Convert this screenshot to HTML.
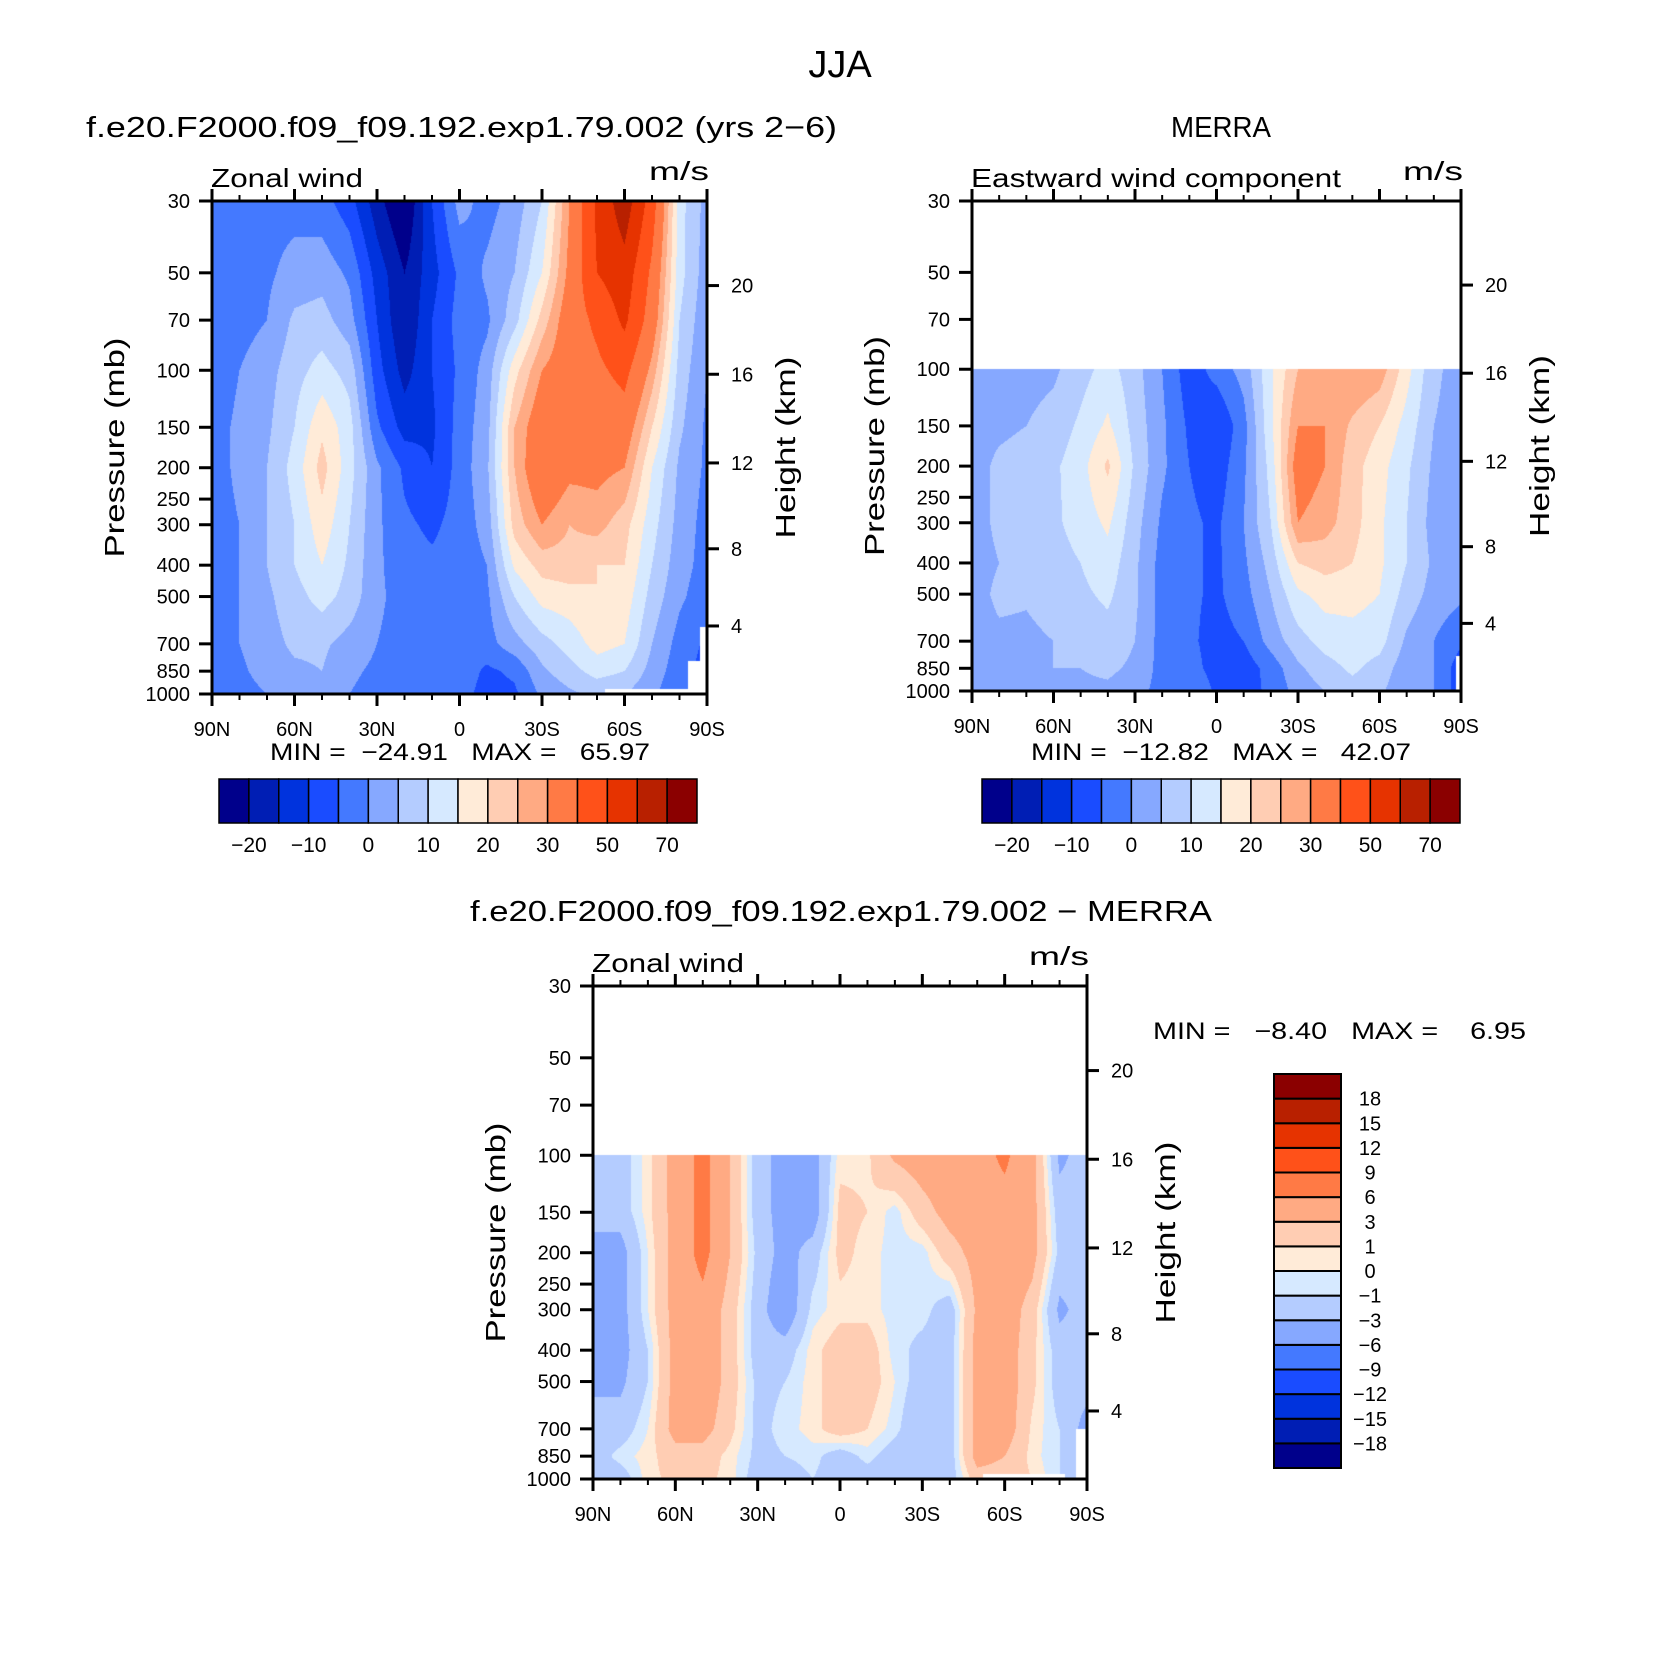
<!DOCTYPE html>
<html><head><meta charset="utf-8">
<style>
html,body{margin:0;padding:0;background:#fff;}
#wrap{position:relative;width:1674px;height:1672px;overflow:hidden;background:#fff;}
canvas{position:absolute;}
svg{position:absolute;left:0;top:0;}
text{font-family:"Liberation Sans",sans-serif;fill:#000;white-space:pre;}
</style></head>
<body>
<div id="wrap">
<canvas id="c1"></canvas>
<canvas id="c2"></canvas>
<canvas id="c3"></canvas>
<svg id="ov" width="1674" height="1672"></svg>
</div>
<script>
// ---------- data ----------
const lats = [90,80,70,60,50,40,30,20,10,0,-10,-20,-30,-40,-50,-60,-70,-80,-90];
const levels = [30,50,70,100,150,200,300,400,500,700,850,1000];
const levelsMerra = [100,150,200,300,400,500,700,850,1000];
const modelU = [
 [-2,-2,-2,-2,-3,-8,-18,-26,-10,2,-2,2,10,30,52,66,45,12,3],
 [-3,-3,-1,2,3,-1,-12,-20,-12,-4,1,5,15,32,50,56,38,12,2],
 [-3,-2,0,6,7,2,-10,-20,-10,-3,-1,8,22,35,42,52,35,10,1],
 [-3,0,3,8,12,8,-8,-17,-10,-4,2,18,30,35,38,43,28,8,0],
 [-2,1,4,10,19,12,-4,-12,-11,-3,3,25,36,33,33,35,20,6,-1],
 [-2,1,5,12,22,12,1,-6,-10,-3,4,25,38,32,32,30,15,4,-1],
 [-2,0,5,10,18,10,1,-4,-6,-3,2,22,30,25,27,22,12,3,-2],
 [-2,0,5,10,15,9,1,-3,-4,-3,0,16,22,23,20,20,10,2,-2],
 [-2,0,4,8,12,8,1,-2,-3,-3,-1,10,17,18,20,18,8,1,-3],
 [-1,0,3,6,6,3,0,-2,-3,-3,-2,3,8,12,17,15,5,-2,-6],
 [-1,-1,2,4,5,1,-1,-3,-4,-2,-6,-4,4,8,12,10,3,-3,-7],
 [-1,-2,0,2,2,0,-2,-3,-3,-3,-7,-6,1,4,6,5,1,-4,-6]
];
const merraU = [
 [3,3,3,4,8,12,7,0,-8,-3,2,14,25,27,30,28,17,6,3],
 [3,4,5,7,11,16,8,1,-6,-10,-2,14,30,30,24,20,13,5,3],
 [3,6,7,9,13,21,9,1,-5,-8,-1,12,34,30,22,17,11,4,3],
 [3,6,6,9,12,16,7,-1,-4,-6,0,10,30,27,22,16,10,3,3],
 [3,5,7,8,10,13,6,-2,-4,-6,-1,7,20,22,20,16,10,4,2],
 [3,6,5.5,7,9,11,6,-2,-4,-6,-2,5,14,17,17,15,8,3,1],
 [3,4,4,5,7,8,5,-2,-4,-7,-5,2,8,12,13,12,4,0,-4],
 [3,4,4,5,5,6,4,-2,-3,-7,-8,-3,4,8,11,8,2,0,-8],
 [3,3,3,4,4,4,2,-2,0,-6,-7,-4,2,5,8,6,1,0,-8]
];
const diffU = [
 [-2,-2,0.5,4,7,3,-2,-4,-4,0.5,0.7,3.5,4.5,5,5,6.5,4,-3.5,-2],
 [-2,-2,0.5,4,7,3,-2,-4,-4.5,1.5,1,-0.5,2,4,4.5,5,4,-2,-2],
 [-4,-4,0,4,7,3,-1.5,-4,-2,1.5,0.5,-0.5,-0.5,2,4,5,4,-1.5,-2],
 [-4.5,-4,0,4,5,2,-2,-5,-0.5,0.5,0.5,-0.5,-0.5,-2,3.5,4.5,2,-3.5,-2],
 [-4.5,-4,-1,4,5,2,-2,-2,0.5,2,2,-0.5,-1.5,-2,4,4.5,1.5,-2,-2],
 [-3.5,-3.5,-1,4,5,2,-1.5,-1,0.5,2,2,0,-2,-2,4,4.5,1.5,-2,-2],
 [-2,-2,0,4,4,1.5,-1.5,-0.5,0.5,2,1,-0.5,-3,-2,4,4.5,0.7,-1,-4],
 [-2,-0.5,0.5,2,2,0.5,-1.5,-1,-0.5,-2,-0.5,-2,-3,-2,4,3,0.5,-1,-4],
 [-2,-2,0.5,1.5,1.5,0.5,-2,-2,-1,-2,-2,-2,-2,-2,2,2,1,-1,-3]
];
const windLevels = [-20,-15,-10,-5,0,5,10,15,20,25,30,40,50,60,70];
const windLabels = ['−20','−10','0','10','20','30','50','70'];
const diffLevels = [-18,-15,-12,-9,-6,-3,-1,0,1,3,6,9,12,15,18];
const diffLabels = ['18','15','12','9','6','3','1','0','−1','−3','−6','−9','−12','−15','−18'];
const xTickLabels = ['90N','60N','30N','0','30S','60S','90S'];
const pTicks = [30,50,70,100,150,200,250,300,400,500,700,850,1000];
const hTicks = [4,8,12,16,20];
const colors = ['#00008B','#001EB4','#0033DD','#1A4CFF','#4479FF','#86A8FF','#B4CCFF','#D6E9FF','#FFEBD8','#FFCDB3','#FFAA83','#FF7A45','#FF5119','#E63300','#B82000','#8B0000'];

// ---------- panels ----------
const panels = [
 {id:'c1',x0:212,y0:201,w:495,h:493,data:modelU,lev:levels,bounds:windLevels,
  missing:[[-53,-83,962],[-83,-87.5,790],[-87.5,-90,620]]},
 {id:'c2',x0:972,y0:201,w:489,h:490,data:merraU,lev:levelsMerra,bounds:windLevels,
  missing:[[-88,-90,780]]},
 {id:'c3',x0:593,y0:986,w:494,h:493,data:diffU,lev:levelsMerra,bounds:diffLevels,
  missing:[[-52,-82,962],[-86,-90,700]]}
];
const LN = Math.log(1000/30);
function yOf(P,p){return P.y0+Math.log(p/30)/LN*P.h;}
function xOf(P,lat){return P.x0+(90-lat)/180*P.w;}
function hex(c){return [parseInt(c.substr(1,2),16),parseInt(c.substr(3,2),16),parseInt(c.substr(5,2),16)];}
const rgb = colors.map(hex);

function drawField(P){
  const cv=document.getElementById(P.id);
  cv.width=P.w;cv.height=P.h;cv.style.left=P.x0+'px';cv.style.top=P.y0+'px';
  const ctx=cv.getContext('2d');const img=ctx.createImageData(P.w,P.h);
  const lp=P.lev.map(v=>Math.log(v));
  for(let j=0;j<P.h;j++){
    const p=30*Math.exp((j+0.5)/P.h*LN);const l=Math.log(p);
    let k=-1;
    if(l>=lp[0]){k=0;while(k<lp.length-2&&l>lp[k+1])k++;}
    for(let i=0;i<P.w;i++){
      const o=(j*P.w+i)*4;
      const lat=90-(i+0.5)/P.w*180;
      let miss=(k<0);
      for(const m of P.missing){if(lat<=m[0]&&lat>=m[1]&&p>=m[2])miss=true;}
      if(miss){img.data[o]=255;img.data[o+1]=255;img.data[o+2]=255;img.data[o+3]=255;continue;}
      const fx=(90-lat)/10;let ix=Math.min(Math.floor(fx),lats.length-2);const tx=fx-ix;
      const ty=Math.min(1,Math.max(0,(l-lp[k])/(lp[k+1]-lp[k])));
      const d=P.data;
      const v=(d[k][ix]*(1-tx)+d[k][ix+1]*tx)*(1-ty)+(d[k+1][ix]*(1-tx)+d[k+1][ix+1]*tx)*ty;
      let c=0;while(c<P.bounds.length&&v>=P.bounds[c])c++;
      const col=rgb[c];img.data[o]=col[0];img.data[o+1]=col[1];img.data[o+2]=col[2];img.data[o+3]=255;
    }
  }
  ctx.putImageData(img,0,0);
}
panels.forEach(drawField);

// ---------- overlay ----------
const svg=document.getElementById('ov');const NS='http://www.w3.org/2000/svg';
function el(tag,attrs,parent){const e=document.createElementNS(NS,tag);for(const k in attrs)e.setAttribute(k,attrs[k]);(parent||svg).appendChild(e);return e;}
function txt(s,x,y,size,anchor,name,extra){const t=el('text',Object.assign({x:x,y:y,'font-size':size,'text-anchor':anchor||'start'},extra||{}));t.textContent=s;return t;}
function hOfKm(z){const m=z*1000;return m<=11000?1013.25*Math.pow(1-2.25577e-5*m,5.25588):226.32*Math.exp(-(m-11000)/6341.6);}

txt('JJA',840,77,38,'middle','figure-title');
txt('f.e20.F2000.f09_f09.192.exp1.79.002 (yrs 2−6)',86,137,29,'start','model-panel-title',{textLength:751,lengthAdjust:'spacingAndGlyphs'});
txt('MERRA',1221,137,29,'middle','merra-panel-title',{textLength:100,lengthAdjust:'spacingAndGlyphs'});
txt('f.e20.F2000.f09_f09.192.exp1.79.002 − MERRA',470,921,29,'start','difference-panel-title',{textLength:742,lengthAdjust:'spacingAndGlyphs'});

function axes(P,idx,left){
  const g=el('g',{});
  el('rect',{x:P.x0,y:P.y0,width:P.w,height:P.h,fill:'none',stroke:'#000','stroke-width':3},g);
  for(let lat=90;lat>=-90;lat-=10){
    const x=xOf(P,lat);const major=(lat%30===0);const L=major?12:6;
    el('line',{x1:x,y1:P.y0,x2:x,y2:P.y0-L,stroke:'#000','stroke-width':major?3:2},g);
    el('line',{x1:x,y1:P.y0+P.h,x2:x,y2:P.y0+P.h+L,stroke:'#000','stroke-width':major?3:2},g);
  }
  xTickLabels.forEach((s,i)=>{txt(s,xOf(P,90-30*i),P.y0+P.h+42,20,'middle','x-tick-label')});
  pTicks.forEach(p=>{const y=yOf(P,p);el('line',{x1:P.x0,y1:y,x2:P.x0-13,y2:y,stroke:'#000','stroke-width':3},g);
    txt(String(p),P.x0-22,y+7,20,'end','pressure-tick-label');});
  hTicks.forEach(z=>{const y=yOf(P,hOfKm(z));el('line',{x1:P.x0+P.w,y1:y,x2:P.x0+P.w+12,y2:y,stroke:'#000','stroke-width':3},g);
    txt(String(z),P.x0+P.w+24,y+7,20,'start','height-tick-label');});
  const cy=P.y0+P.h*0.5;
  txt('Pressure (mb)',0,0,28,'middle','y-axis-title',{transform:`translate(${P.x0-88},${cy}) rotate(-90)`,textLength:220,lengthAdjust:'spacingAndGlyphs'});
  txt('Height (km)',0,0,28,'middle','right-axis-title',{transform:`translate(${P.x0+P.w+88},${cy}) rotate(-90)`,textLength:182,lengthAdjust:'spacingAndGlyphs'});
  txt(left,P.x0-1,P.y0-14,26,'start','left-string',{textLength:left.length>12?370:152,lengthAdjust:'spacingAndGlyphs'});
  txt('m/s',P.x0+P.w+2,P.y0-21,26,'end','units-label',{textLength:60,lengthAdjust:'spacingAndGlyphs'});
}
axes(panels[0],1,'Zonal wind');
axes(panels[1],2,'Eastward wind component');
axes(panels[2],3,'Zonal wind');

txt('MIN =  −24.91   MAX =   65.97',270,760,24,'start','model-min-max',{textLength:380,lengthAdjust:'spacingAndGlyphs'});
txt('MIN =  −12.82   MAX =   42.07',1031,760,24,'start','merra-min-max',{textLength:380,lengthAdjust:'spacingAndGlyphs'});
txt('MIN =   −8.40   MAX =    6.95',1153,1039,24,'start','difference-min-max',{textLength:373,lengthAdjust:'spacingAndGlyphs'});

function hbar(x0,idx){
  const g=el('g',{});
  const W=478/16;
  colors.forEach((c,i)=>{const r=el('rect',{x:x0+i*W,y:779,width:W,height:44,fill:c,stroke:'#000','stroke-width':1.5},g);
    });
  windLabels.forEach((s,i)=>{txt(s,x0+(2*i+1)*W,852,21,'middle','colorbar-label')});
}
hbar(219,1);hbar(982,2);
(function(){
  const g=el('g',{});
  const H=394/16;
  colors.forEach((c,i)=>{const r=el('rect',{x:1274,y:1074+(15-i)*H,width:67,height:H,fill:c,stroke:'#000','stroke-width':2},g);
    });
  diffLabels.forEach((s,i)=>{txt(s,1370,1074+(i+1)*H+7,20,'middle','colorbar-label')});
})();
</script>
</body></html>
